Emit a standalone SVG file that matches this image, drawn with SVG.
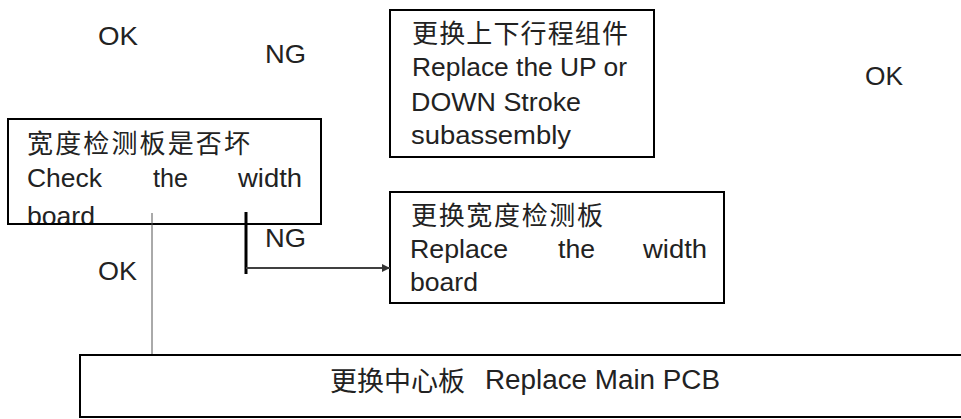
<svg xmlns="http://www.w3.org/2000/svg" width="961" height="419" viewBox="0 0 961 419">
<style>
.box{fill:#fff;stroke:#000;stroke-width:2}
.t{font-family:"Liberation Sans","Noto Sans CJK SC",sans-serif;font-size:25px;fill:#222}
.c{font-family:"Liberation Sans","Noto Sans CJK SC",sans-serif;font-size:26px;fill:#222}
</style>
<defs>
<marker id="arr" markerWidth="4" markerHeight="4" refX="4" refY="2" orient="auto" markerUnits="strokeWidth">
<path d="M0,0 L4,2 L0,4 z" fill="#333"/>
</marker>
</defs>
<g id="labels">
<text class="t" x="98" y="45" textLength="40" lengthAdjust="spacingAndGlyphs">OK</text>
<text class="t" x="265" y="63" textLength="41" lengthAdjust="spacingAndGlyphs">NG</text>
<text class="t" x="865" y="85" textLength="38" lengthAdjust="spacingAndGlyphs">OK</text>
<text class="t" x="265" y="247" textLength="41" lengthAdjust="spacingAndGlyphs">NG</text>
<text class="t" x="98" y="280" textLength="39" lengthAdjust="spacingAndGlyphs">OK</text>
</g>
<g id="node-updown">
<rect class="box" x="390" y="10" width="264" height="147"/>
<text class="c" x="412" y="43" textLength="216">更换上下行程组件</text>
<text class="t" x="412" y="76" textLength="215" lengthAdjust="spacingAndGlyphs">Replace the UP or</text>
<text class="t" x="411" y="111" textLength="170" lengthAdjust="spacingAndGlyphs">DOWN Stroke</text>
<text class="t" x="411" y="144" textLength="160" lengthAdjust="spacingAndGlyphs">subassembly</text>
</g>
<g id="node-check">
<rect class="box" x="8" y="119" width="313" height="105"/>
<text class="c" x="27" y="153" textLength="223">宽度检测板是否坏</text>
<text class="t" x="27" y="187" textLength="75" lengthAdjust="spacingAndGlyphs">Check</text>
<text class="t" x="153" y="187" textLength="35" lengthAdjust="spacingAndGlyphs">the</text>
<text class="t" x="238" y="187" textLength="64" lengthAdjust="spacingAndGlyphs">width</text>
<text class="t" x="27" y="225" textLength="68" lengthAdjust="spacingAndGlyphs">board</text>
<line x1="8" y1="224" x2="321" y2="224" stroke="#000" stroke-width="2"/>
</g>
<g id="node-replace-width">
<rect class="box" x="390" y="192" width="334" height="111"/>
<text class="c" x="411" y="225" textLength="192">更换宽度检测板</text>
<text class="t" x="410" y="258" textLength="98" lengthAdjust="spacingAndGlyphs">Replace</text>
<text class="t" x="558" y="258" textLength="37" lengthAdjust="spacingAndGlyphs">the</text>
<text class="t" x="643" y="258" textLength="64" lengthAdjust="spacingAndGlyphs">width</text>
<text class="t" x="410" y="291" textLength="68" lengthAdjust="spacingAndGlyphs">board</text>
</g>
<g id="connectors">
<line x1="152" y1="213" x2="152" y2="355" stroke="#555" stroke-width="1"/>
<line x1="246" y1="212" x2="246" y2="274" stroke="#000" stroke-width="3"/>
<line x1="246" y1="268" x2="390" y2="268" stroke="#404040" stroke-width="2" marker-end="url(#arr)"/>
</g>
<g id="node-main-pcb">
<rect class="box" x="80" y="355" width="890" height="62"/>
<text class="c" x="330" y="391" textLength="135" style="font-size:27px">更换中心板</text>
<text class="t" x="485" y="389" textLength="235" lengthAdjust="spacingAndGlyphs" style="font-size:27px">Replace Main PCB</text>
</g>
</svg>
